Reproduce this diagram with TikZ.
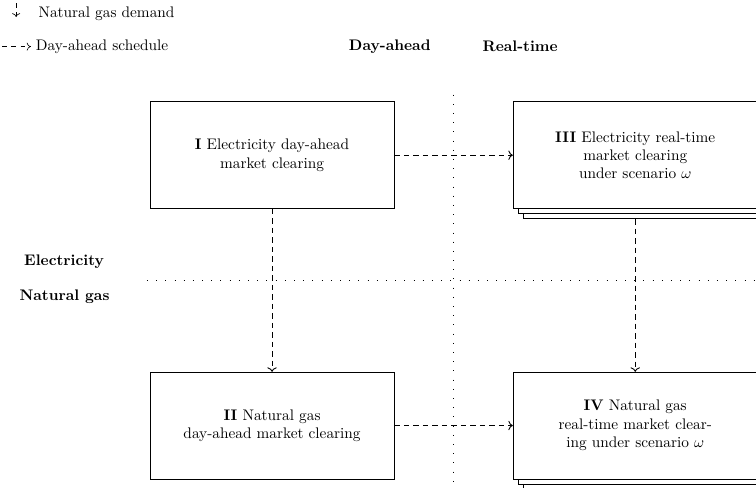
\documentclass[tikz,border=0pt]{standalone}
\usepackage{amsmath,amssymb}
\usepackage{tikz}
\usetikzlibrary{arrows.meta,positioning,shadows}

\begin{document}
\begin{tikzpicture}[
    stage/.style={draw, fill=white, minimum width=5.6cm, minimum height=2.45cm, align=center},
    scen/.style={stage, double copy shadow={shadow xshift=3.3pt, shadow yshift=-3.3pt}},
    flow/.style={semithick, dash pattern=on 3.6pt off 2.6pt, ->},
    sep/.style={dash pattern=on 0.4pt off 5.6pt},
    lab/.style={font=\bfseries},
]
\useasboundingbox (0,0) rectangle (17.34,11.19);
\clip (0,0) rectangle (17.34,11.19);

% legend
\coordinate (lga) at (0.37,11.12);
\coordinate (lgb) at (0.37,10.80);
\draw[dashed, ->] (lga) -- (lgb);
\node[anchor=west] (lgdem) at (0.76,10.87) {Natural gas demand};
\coordinate (lgc) at (0.05,10.12);
\coordinate (lgd) at (0.70,10.12);
\draw[dashed, ->] (lgc) -- (lgd);
\node[anchor=west] (lgsch) at (0.70,10.12) {Day-ahead schedule};

% headings
\node[lab] (da) at (8.94,10.12) {Day-ahead};
\node[lab] (rt) at (11.93,10.12) {Real-time};
\node[lab] (el) at (1.47,5.18) {Electricity};
\node[lab] (ng) at (1.48,4.38) {Natural gas};

% separators
\coordinate (vtop) at (10.39,9.02);
\coordinate (vbot) at (10.39,0);
\coordinate (hl) at (3.37,4.77);
\coordinate (hr) at (17.34,4.77);
\draw[sep] (vtop) -- (vbot);
\draw[sep] (hl) -- (hr);

% stages
\node[stage] (elecda) at (6.24,7.63) {\textbf{I} Electricity day-ahead\\market clearing};
\node[stage] (gasda) at (6.24,1.43) {\textbf{II} Natural gas\\day-ahead market clearing};
\node[scen] (elecrt) at (14.57,7.63) {\textbf{III} Electricity real-time\\market clearing\\under scenario $\omega$};
\node[scen] (gasrt) at (14.57,1.43) {\textbf{IV} Natural gas\\real-time market clear-\\ing under scenario $\omega$};

\draw[flow] (elecda) -- (elecrt);
\draw[flow] (gasda) -- (gasrt);
\draw[flow] (elecda) -- (gasda);
\draw[flow] ([yshift=-6.6pt]elecrt.south) -- (gasrt);
\end{tikzpicture}
\end{document}
